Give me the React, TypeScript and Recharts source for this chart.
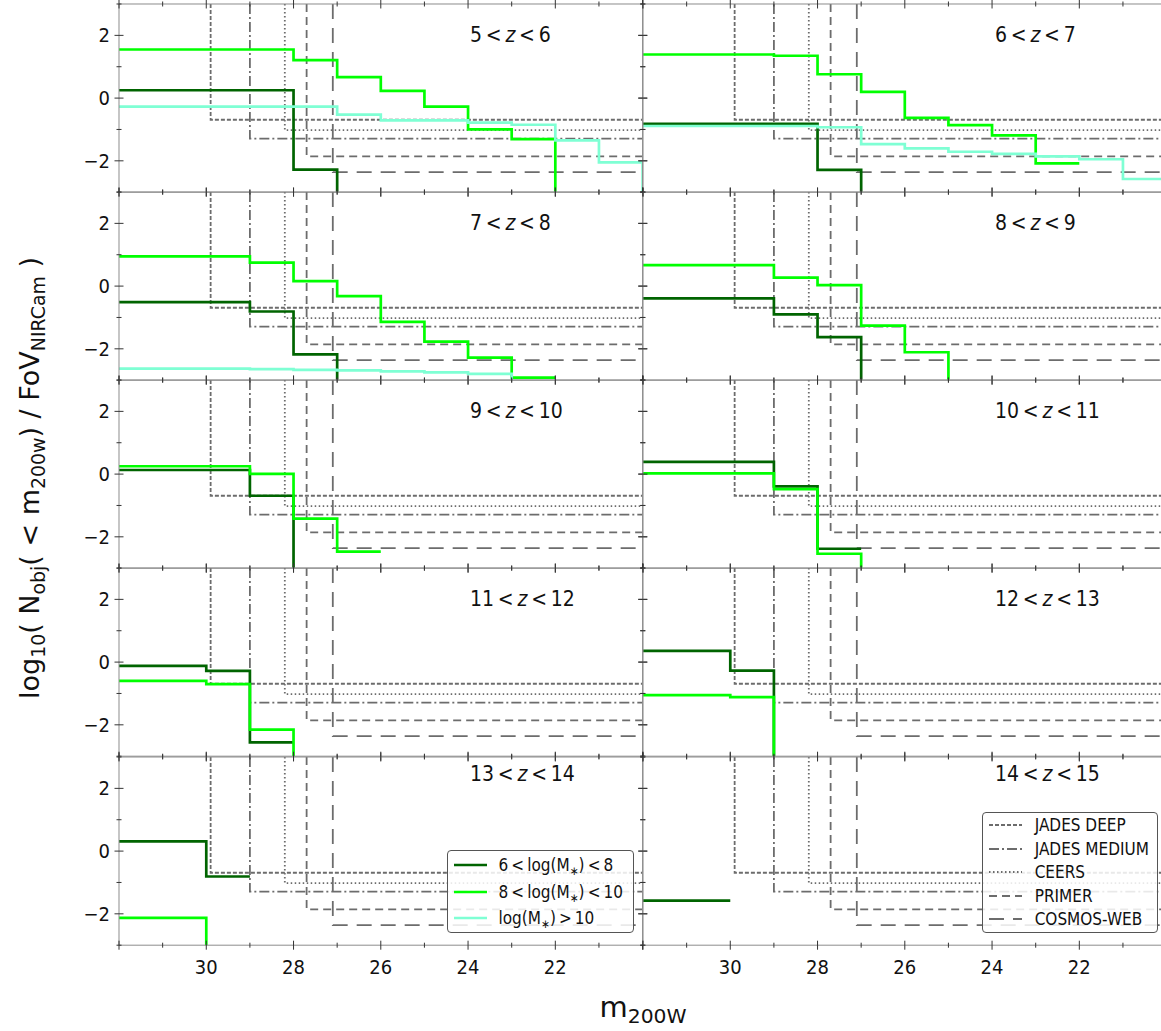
import React from "react";
import { LineChart, Line, XAxis, YAxis } from "recharts";

// magnitude edges, faint (left) to bright (right)
const MAGS = [32, 31, 30, 29, 28, 27, 26, 25, 24, 23, 22, 21, 20];
const Y_TICKS = [-3, -2, -1, 0, 1, 2, 3];
const NONE = -9; // no objects left: log10(0), the step falls out of the panel

const Z_LOW = [5, 6, 7, 8, 9, 10, 11, 12, 13, 14];

// log10 N(<m) / FoV, one value per magnitude edge (step starts there)
const dark5 = [0.25, 0.25, 0.25, 0.25, -2.28, NONE];
const mid5 = [1.55, 1.55, 1.55, 1.55, 1.21, 0.67, 0.23, -0.27, -1.0, -1.31, NONE];
const high5 = [-0.27, -0.27, -0.27, -0.27, -0.27, -0.53, -0.71, -0.71, -0.78, -0.85, -1.35, -2.05, NONE];

const dark6 = [-0.82, -0.82, -0.82, -0.82, -2.29, NONE];
const mid6 = [1.39, 1.39, 1.39, 1.35, 0.76, 0.2, -0.63, -0.86, -1.19, -2.08, -2.08];
const high6 = [-0.89, -0.89, -0.89, -0.89, -0.93, -1.47, -1.6, -1.71, -1.78, -1.86, -1.95, -2.58, -2.58];

const dark7 = [-0.51, -0.51, -0.51, -0.81, -2.18, NONE];
const mid7 = [0.95, 0.95, 0.95, 0.75, 0.16, -0.32, -1.14, -1.77, -2.28, -2.92, -2.92];
const high7 = [-2.63, -2.63, -2.63, -2.65, -2.67, -2.69, -2.72, -2.75, -2.8, NONE];

const dark8 = [-0.39, -0.39, -0.39, -0.9, -1.63, NONE];
const mid8 = [0.67, 0.67, 0.67, 0.27, 0.03, -1.26, -2.11, NONE];

const dark9 = [0.13, 0.13, 0.13, -0.69, NONE];
const mid9 = [0.25, 0.25, 0.25, 0.01, -1.42, -2.47, -2.47];

const dark10 = [0.39, 0.39, 0.39, -0.39, -2.38, -2.38];
const mid10 = [0.02, 0.02, 0.02, -0.48, -2.54, NONE];

const dark11 = [-0.12, -0.12, -0.28, -2.56, -2.56];
const mid11 = [-0.6, -0.6, -0.7, -2.15, NONE];

const dark12 = [0.36, 0.36, -0.27, NONE];
const mid12 = [-1.05, -1.05, -1.12, NONE];

const dark13 = [0.31, 0.31, -0.81, -0.81];
const mid13 = [-2.13, -2.13, NONE];

const dark14 = [-1.58, -1.58, -1.58];

const DARK = [dark5, dark6, dark7, dark8, dark9, dark10, dark11, dark12, dark13, dark14];
const MID = [mid5, mid6, mid7, mid8, mid9, mid10, mid11, mid12, mid13, []];
const HIGH = [high5, high6, high7, [], [], [], [], [], [], []];

const MASS_LABELS = ["6 < log(M", "8 < log(M", "log(M"];
const MASS_TAILS = [") < 8", ") < 10", ") > 10"];
const MASS_COLORS = ["#006400", "#00ff00", "#7fffd4"];

// survey depth: 5 sigma magnitude and the matching surface density
const SURVEYS = ["JADES DEEP", "JADES MEDIUM", "CEERS", "PRIMER", "COSMOS-WEB"];
const SURVEY_MAG = [29.9, 29.0, 28.2, 27.7, 27.1];
const SURVEY_LEVEL = [-0.69, -1.29, -1.02, -1.86, -2.36];
const SURVEY_DASH = ["4 2", "10 3 2 3", "1.5 2.5", "8 5", "15 9"];
const SURVEY_COLOR = "#6c6c6c";

const FONT = "'DejaVu Sans Condensed', 'DejaVu Sans', sans-serif";
const FRAME = "#8c8c8c";
const TICK = "#333";

const PLOT_X = [118.8, 643.4];
const PLOT_Y0 = 3.75;
const PLOT_W = 523.6;
const PLOT_H = 188.2;

function XTick(props: any) {
  const { x, y, payload, showLabel } = props;
  const v = payload.value;
  const major = v % 2 === 0;
  const h = major ? 4.5 : 2.5;
  return (
    <g>
      <line x1={x} x2={x} y1={y - h} y2={y + h} stroke={TICK} strokeWidth={1} />
      {showLabel && major && v < 32 && v > 20 && (
        <text x={x} y={y + 29} textAnchor="middle" fontSize={20} fontFamily={FONT} fill="#111">
          {v}
        </text>
      )}
    </g>
  );
}

function YTick(props: any) {
  const { x, y, payload, showLabel } = props;
  const v = payload.value;
  const major = v % 2 === 0;
  const h = major ? 4.5 : 2.5;
  return (
    <g>
      <line x1={x - h} x2={x + h} y1={y} y2={y} stroke={TICK} strokeWidth={1} />
      {showLabel && major && v > -3 && v < 3 && (
        <text x={x - 9} y={y} dy={7} textAnchor="end" fontSize={20} fontFamily={FONT} fill="#111">
          {v < 0 ? `\u2212${-v}` : `${v}`}
        </text>
      )}
    </g>
  );
}

function Panel({ idx }: { idx: number }) {
  const row = Math.floor(idx / 2);
  const col = idx % 2;
  // outer space around the plot box; each axis itself takes 1px of it
  const top = 2;
  const right = 2;
  const left = col === 0 ? 48 : 2;
  const bottom = row === 4 ? 40 : 2;
  const data = MAGS.map((m, i) => ({
    mag: m,
    dark: DARK[idx][i],
    mid: MID[idx][i],
    high: HIGH[idx][i],
  }));
  const axisX = {
    type: "number" as const,
    dataKey: "mag",
    domain: [20, 32],
    reversed: true,
    allowDataOverflow: true,
    ticks: MAGS,
    interval: 0 as const,
    height: 1,
    tickSize: 0,
    tickMargin: 0,
    tickLine: false,
    axisLine: { stroke: FRAME },
  };
  const axisY = {
    type: "number" as const,
    domain: [-3, 3],
    allowDataOverflow: true,
    ticks: Y_TICKS,
    interval: 0 as const,
    width: 1,
    tickSize: 0,
    tickMargin: 0,
    tickLine: false,
    axisLine: { stroke: FRAME },
  };
  return (
    <div style={{ position: "absolute", left: PLOT_X[col] - left, top: PLOT_Y0 + row * PLOT_H - top }}>
      <LineChart
        width={PLOT_W + left + right}
        height={PLOT_H + top + bottom}
        data={data}
        margin={{ top: top - 1, right: right - 1, bottom: bottom - 1, left: left - 1 }}
      >
        <XAxis xAxisId="b" {...axisX} tick={(p: any) => <XTick {...p} showLabel={row === 4} />} />
        <XAxis xAxisId="t" orientation="top" {...axisX} tick={(p: any) => <XTick {...p} showLabel={false} />} />
        <YAxis yAxisId="l" {...axisY} tick={(p: any) => <YTick {...p} showLabel={col === 0} />} />
        <YAxis yAxisId="r" orientation="right" {...axisY} tick={(p: any) => <YTick {...p} showLabel={false} />} />
        {SURVEYS.map((s, i) => (
          <Line
            key={s}
            xAxisId="b"
            yAxisId="l"
            data={[
              { mag: SURVEY_MAG[i], v: 3 },
              { mag: SURVEY_MAG[i], v: SURVEY_LEVEL[i] },
              { mag: 20, v: SURVEY_LEVEL[i] },
            ]}
            dataKey="v"
            type="linear"
            stroke={SURVEY_COLOR}
            strokeWidth={1.8}
            strokeDasharray={SURVEY_DASH[i]}
            dot={false}
            activeDot={false}
            isAnimationActive={false}
          />
        ))}
        {["dark", "mid", "high"].map((k, i) => (
          <Line
            key={k}
            xAxisId="b"
            yAxisId="l"
            dataKey={k}
            type="stepAfter"
            stroke={MASS_COLORS[i]}
            strokeWidth={2.7}
            dot={false}
            activeDot={false}
            isAnimationActive={false}
          />
        ))}
      </LineChart>
    </div>
  );
}

function Sub({ children }: { children: React.ReactNode }) {
  return <span style={{ fontSize: "0.7em", position: "relative", top: "0.32em" }}>{children}</span>;
}

const titleStyle = (idx: number): React.CSSProperties => {
  const row = Math.floor(idx / 2);
  const col = idx % 2;
  const cy = PLOT_Y0 + row * PLOT_H + (row === 4 ? 17 : 31);
  return {
    position: "absolute",
    left: col === 0 ? 470 : 995,
    top: cy - 12,
    height: 24,
    lineHeight: "24px",
    fontSize: 21,
    fontFamily: FONT,
    color: "#111",
    whiteSpace: "nowrap",
  };
};

function LegendSample({ color, dash, width }: { color: string; dash?: string; width: number }) {
  return (
    <svg width={33} height={10} style={{ display: "block", overflow: "visible" }}>
      <line x1={0} x2={33} y1={5} y2={5} stroke={color} strokeWidth={width} strokeDasharray={dash} />
    </svg>
  );
}

export default function App() {
  return (
    <div
      style={{
        position: "absolute",
        left: 0,
        top: 0,
        width: 1161,
        height: 1031,
        overflow: "hidden",
        background: "#fff",
      }}
    >
      <style>{`.recharts-surface{overflow:visible}`}</style>
      {Z_LOW.map((z, i) => (
        <Panel key={z} idx={i} />
      ))}
      {Z_LOW.map((z, i) => (
        <div key={`t${z}`} style={titleStyle(i)}>
          {z}
          {"\u2009<\u2009"}
          <i>z</i>
          {"\u2009<\u2009"}
          {z + 1}
        </div>
      ))}

      {/* mass legend */}
      <div
        style={{
          position: "absolute",
          left: 446.5,
          top: 850,
          width: 187.5,
          height: 83,
          boxSizing: "border-box",
          border: "1px solid #555",
          borderRadius: 4,
          background: "rgba(255,255,255,0.85)",
          paddingTop: 1,
          fontFamily: FONT,
          fontSize: 17,
          color: "#111",
        }}
      >
        {MASS_LABELS.map((l, i) => (
          <div key={l} style={{ display: "flex", alignItems: "center", height: 26.5, paddingLeft: 6, whiteSpace: "nowrap" }}>
            <LegendSample color={MASS_COLORS[i]} width={2.7} />
            <span style={{ marginLeft: 12 }}>
              {l.replace(/ < /g, "\u2009<\u2009")}
              <Sub>∗</Sub>
              {MASS_TAILS[i].replace(/ [<>] /g, (m) => `\u2009${m.trim()}\u2009`)}
            </span>
          </div>
        ))}
      </div>

      {/* survey legend */}
      <div
        style={{
          position: "absolute",
          left: 981.7,
          top: 811.7,
          width: 176.3,
          height: 121,
          boxSizing: "border-box",
          border: "1px solid #555",
          borderRadius: 4,
          background: "rgba(255,255,255,0.85)",
          paddingTop: 0.5,
          fontFamily: FONT,
          fontSize: 17,
          color: "#111",
        }}
      >
        {SURVEYS.map((s, i) => (
          <div key={s} style={{ display: "flex", alignItems: "center", height: 23.6, paddingLeft: 6, whiteSpace: "nowrap" }}>
            <LegendSample color={SURVEY_COLOR} dash={SURVEY_DASH[i]} width={1.8} />
            <span style={{ marginLeft: 13 }}>{s}</span>
          </div>
        ))}
      </div>

      {/* axis titles */}
      <div
        style={{
          position: "absolute",
          left: 31,
          top: 478,
          transform: "translate(-50%, -50%) rotate(-90deg)",
          fontSize: 27,
          fontFamily: "'DejaVu Sans', sans-serif",
          color: "#111",
          whiteSpace: "nowrap",
          lineHeight: "34px",
        }}
      >
        log<Sub>10</Sub>( N<Sub>obj</Sub>( &lt; m<Sub>200w</Sub>) / FoV<Sub>NIRCam</Sub> )
      </div>
      <div
        style={{
          position: "absolute",
          left: 643,
          top: 1008,
          transform: "translate(-50%, -50%)",
          fontSize: 29,
          fontFamily: "'DejaVu Sans', sans-serif",
          color: "#111",
          whiteSpace: "nowrap",
          lineHeight: "32px",
        }}
      >
        m<Sub>200W</Sub>
      </div>
    </div>
  );
}
